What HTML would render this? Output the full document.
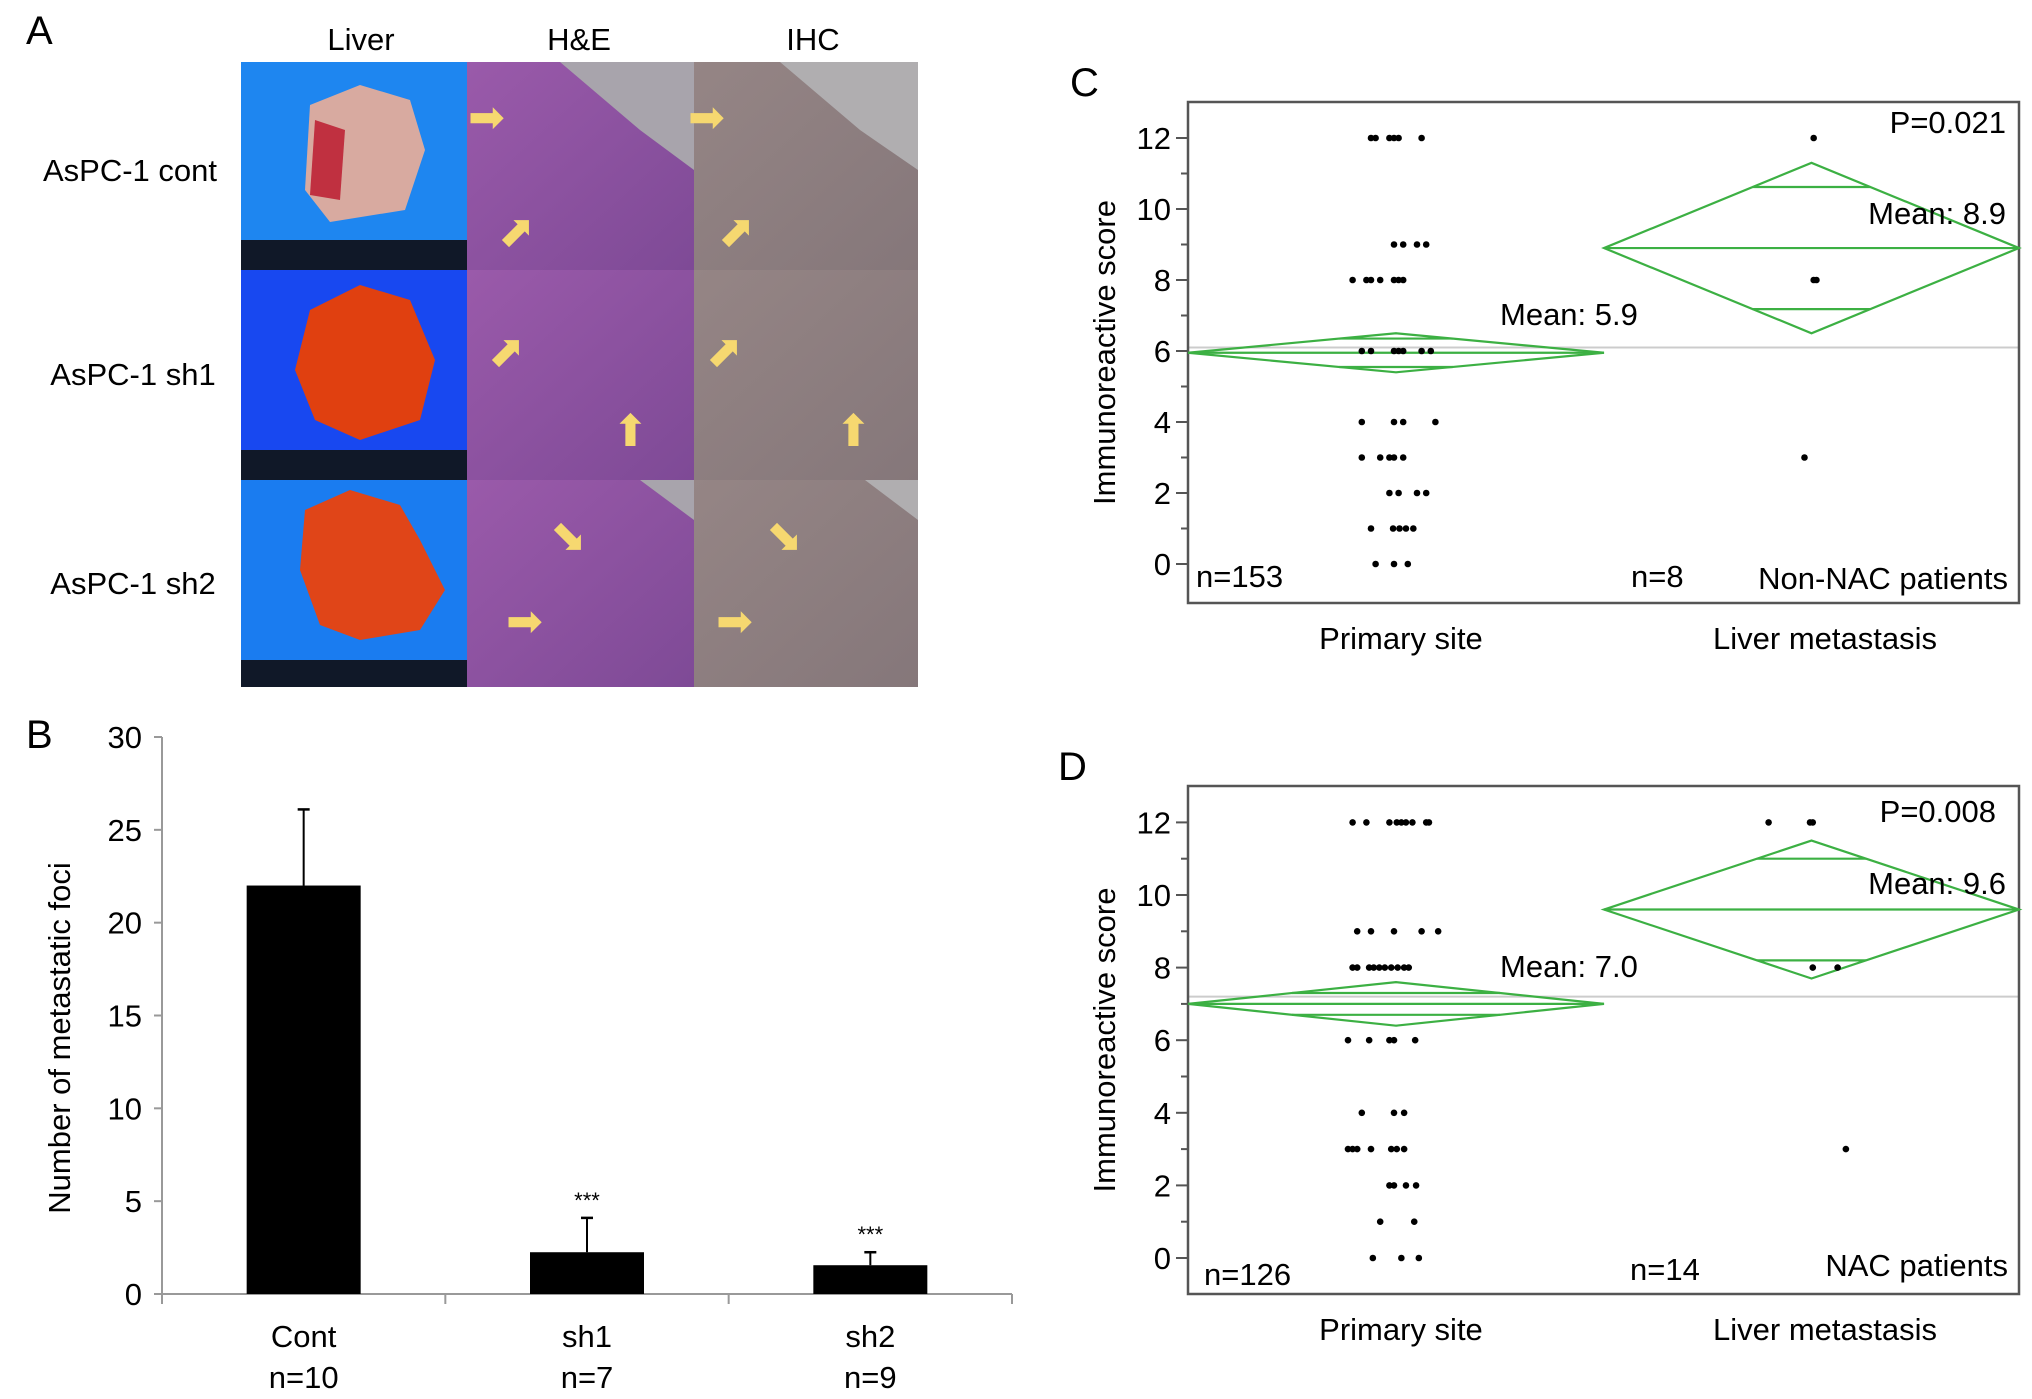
<!DOCTYPE html>
<html><head><meta charset="utf-8"><style>
html,body{margin:0;padding:0;background:#fff;}
svg{display:block;font-family:"Liberation Sans",sans-serif;}
</style></head><body>
<svg id="fig" width="2032" height="1399" viewBox="0 0 2032 1399" xmlns="http://www.w3.org/2000/svg">
<defs>
<linearGradient id="heg" x1="0" y1="0" x2="1" y2="1"><stop offset="0" stop-color="#9a5aaa"/><stop offset="1" stop-color="#7e4a96"/></linearGradient>
<linearGradient id="ihcg" x1="0" y1="0" x2="1" y2="1"><stop offset="0" stop-color="#958585"/><stop offset="1" stop-color="#85777a"/></linearGradient>
</defs>
<g>
<text x="26" y="44" font-size="40">A</text>
<text x="361" y="50" font-size="31" text-anchor="middle">Liver</text>
<text x="579" y="50" font-size="31" text-anchor="middle">H&amp;E</text>
<text x="813" y="50" font-size="31" text-anchor="middle">IHC</text>
<text x="130" y="181" font-size="31" text-anchor="middle">AsPC-1 cont</text>
<text x="133" y="385" font-size="31" text-anchor="middle">AsPC-1 sh1</text>
<text x="133" y="594" font-size="31" text-anchor="middle">AsPC-1 sh2</text>
<rect x="241" y="62" width="226" height="208" fill="#1e86f0"/>
<rect x="241" y="240" width="226" height="30" fill="#101828"/>
<path d="M310 105 L360 85 L410 100 L425 150 L405 210 L330 222 L305 190 Z" fill="#d8aaa0"/>
<path d="M315 120 L345 130 L340 200 L310 195 Z" fill="#c03040"/>
<rect x="241" y="270" width="226" height="210" fill="#1848f0"/>
<rect x="241" y="450" width="226" height="30" fill="#101828"/>
<path d="M310 310 L360 285 L410 300 L435 360 L420 420 L360 440 L315 420 L295 370 Z" fill="#e04010"/>
<rect x="241" y="480" width="226" height="207" fill="#1a7cf0"/>
<rect x="241" y="660" width="226" height="27" fill="#101828"/>
<path d="M305 510 L350 490 L400 505 L420 540 L445 590 L420 630 L360 640 L320 625 L300 570 Z" fill="#e04518"/>
<rect x="467" y="62" width="227" height="208" fill="url(#heg)"/>
<path d="M560 62 L694 62 L694 170 L640 130 Z" fill="#a8a4ac"/>
<rect x="467" y="270" width="227" height="210" fill="url(#heg)"/>
<rect x="467" y="480" width="227" height="207" fill="url(#heg)"/>
<path d="M640 480 L694 480 L694 520 Z" fill="#a8a4ac"/>
<rect x="694" y="62" width="224" height="208" fill="url(#ihcg)"/>
<path d="M780 62 L918 62 L918 170 L860 130 Z" fill="#b0aeb0"/>
<rect x="694" y="270" width="224" height="210" fill="url(#ihcg)"/>
<rect x="694" y="480" width="224" height="207" fill="url(#ihcg)"/>
<path d="M865 480 L918 480 L918 520 Z" fill="#b0aeb0"/>
<g fill="#f6d870" font-size="44">
<text x="468" y="132">➡</text><text x="498" y="246">⬈</text>
<text x="688" y="132">➡</text><text x="718" y="246">⬈</text>
<text x="488" y="366">⬈</text><text x="612" y="446">⬆</text>
<text x="706" y="366">⬈</text><text x="835" y="446">⬆</text>
<text x="550" y="551">⬊</text><text x="506" y="636">➡</text>
<text x="766" y="551">⬊</text><text x="716" y="636">➡</text>
</g>
</g>
<g id="panelB"></g>
<g id="panelC"></g>
<g id="panelD"></g>
</svg>
<script>
const bCategories = ["Cont","sh1","sh2"];
const bNLabels = ["n=10","n=7","n=9"];
const bValues = [22.0, 2.25, 1.55];
const bErrors = [4.1, 1.85, 0.7];
const bSig = ["","***","***"];
const bTicks = [0,5,10,15,20,25,30];

const cPrimaryScores = [12,12,12,12,12,12, 9,9,9,9, 8,8,8,8,8,8,8, 6,6,6,6,6,6,6, 4,4,4,4, 3,3,3,3,3, 2,2,2,2, 1,1,1,1,1, 0,0,0];
const cPrimaryJitter = [-5,-4,-1,0,1,6, 0,2,5,7, -9,-6,-5,-3,0,1,2, -7,-5,0,1,2,6,8, -7,0,2,9, -7,-3,-1,0,2, -1,1,5,7, -5,-0.2,1.2,2.6,4.2, -4,0,3];
const cLiverScores = [12,8,8,3];
const cLiverJitter = [0.8,0.8,1.4,-1.2];
const cMeans = [5.95, 8.9];
const cDiamondHalf = [0.55, 2.4];
const cOverlap = [0.4, 1.72];
const cGrandMean = 6.1;

const dPrimaryScores = [12,12,12,12,12,12,12,12,12, 9,9,9,9,9, 8,8,8,8,8,8,8,8,8,8, 6,6,6,6,6, 4,4,4, 3,3,3,3,3,3,3, 2,2,2,2, 1,1, 0,0,0];
const dPrimaryJitter = [-9,-6,-1,0.6,1.6,2.6,4,7,7.6, -8,-5,0,6,9.6, -9,-8,-5.4,-4.4,-3.2,-2,-0.6,0.8,2.2,3.2, -10,-5.4,-1,0,4.6, -7,0,2.2, -10,-9,-8,-5,-0.6,0.6,2.2, -1,0,2.6,4.8, -3,4.4, -4.6,1.6,5.4];
const dLiverScores = [12,12,12,8,8,3];
const dLiverJitter = [-9,0,0.6,0.6,6,7.8];
const dMeans = [7.0, 9.6];
const dDiamondHalf = [0.6, 1.9];
const dOverlap = [0.3, 1.4];
const dGrandMean = 7.2;

const scoreTicks = [0,2,4,6,8,10,12];
const NS = "http://www.w3.org/2000/svg";
function mk(parent, tag, attrs, txt){
  const e = document.createElementNS(NS, tag);
  for (const k in attrs) e.setAttribute(k, attrs[k]);
  if (txt !== undefined) e.textContent = txt;
  parent.appendChild(e);
  return e;
}

(function(){
  const g = document.getElementById('panelB');
  const x0 = 162, x1 = 1012, yBase = 1294, yTop = 737;
  const yS = v => yBase - v*(yBase-yTop)/30;
  const band = (x1-x0)/bCategories.length;
  const xC = i => x0 + band*(i+0.5);
  let t = mk(g,'text',{x:26,y:748,'font-size':40},'B');
   
  let ax = mk(g,'line',{x1:x0,y1:yTop,x2:x0,y2:yBase+10,stroke:'#999','stroke-width':2});
   
  let xa = mk(g,'line',{x1:x0,y1:yBase,x2:x1,y2:yBase,stroke:'#999','stroke-width':2});
   
  for (let i=1;i<=bCategories.length;i++){
    const d = mk(g,'line',{x1:x0+band*i,y1:yBase,x2:x0+band*i,y2:yBase+10,stroke:'#999','stroke-width':2});
     
  }
  bTicks.forEach(v=>{
    const tk = mk(g,'line',{x1:x0-8,y1:yS(v),x2:x0,y2:yS(v),stroke:'#999','stroke-width':2});
     
    const tl = mk(g,'text',{x:x0-20,y:yS(v)+11,'font-size':31,'text-anchor':'end'},String(v));
     
  });
  const yt = mk(g,'text',{x:0,y:0,'font-size':31,'text-anchor':'middle',transform:'translate(70,1038) rotate(-90)'},'Number of metastatic foci');
   
  const bw = 114;
  bCategories.forEach((c,i)=>{
    const cx = xC(i);
    const top = yS(bValues[i]+bErrors[i]);
    const el = mk(g,'line',{x1:cx,y1:yS(bValues[i]),x2:cx,y2:top,stroke:'#000','stroke-width':2});
     
    const cap = mk(g,'line',{x1:cx-6,y1:top,x2:cx+6,y2:top,stroke:'#000','stroke-width':2.5});
     
    const r = mk(g,'rect',{x:cx-bw/2,y:yS(bValues[i]),width:bw,height:yBase-yS(bValues[i]),fill:'#000'});
     
    const l1 = mk(g,'text',{x:cx,y:1347,'font-size':31,'text-anchor':'middle'},c);
     
    const l2 = mk(g,'text',{x:cx,y:1388,'font-size':31,'text-anchor':'middle'},bNLabels[i]);
     
    if (bSig[i]){
      const s = mk(g,'text',{x:cx,y:top-10,'font-size':22,'text-anchor':'middle'},bSig[i]);
       
    }
  });
})();

function scorePanel(id, o){
  const g = document.getElementById(id);
  const L=1188, R=2019, T=o.top, B=o.bottom;
  const yS = v => o.y0 - v*o.unit;
  const groupX = [1394, 1810];
  const jit = 4.6;
  const lab = mk(g,'text',{x:o.letterX,y:o.letterY,'font-size':40},o.letter);
   
  const gm = mk(g,'line',{x1:L,y1:yS(o.grand),x2:R,y2:yS(o.grand),stroke:'#ccc','stroke-width':2});
   
  const box = mk(g,'rect',{x:L,y:T,width:R-L,height:B-T,fill:'none',stroke:'#555','stroke-width':2.5});
   
  for (let v=0; v<=12; v++){
    const major = scoreTicks.includes(v);
    const tk = mk(g,'line',{x1:major?L-12:L-7,y1:yS(v),x2:L,y2:yS(v),stroke:'#555','stroke-width':2});
     
  }
  scoreTicks.forEach(v=>{
    const tl = mk(g,'text',{x:L-17,y:yS(v)+11,'font-size':31,'text-anchor':'end'},String(v));
     
  });
  const yt = mk(g,'text',{x:0,y:0,'font-size':31,'text-anchor':'middle',transform:'translate(1115,'+((T+B)/2)+') rotate(-90)'},'Immunoreactive score');
   
  const xl1 = mk(g,'text',{x:1401,y:B+46,'font-size':31,'text-anchor':'middle'},'Primary site');
   
  const xl2 = mk(g,'text',{x:1825,y:B+46,'font-size':31,'text-anchor':'middle'},'Liver metastasis');
   
  const spans = [[L, 1604],[1604, R]];
  o.means.forEach((m,i)=>{
    const [a,b] = spans[i]; const c=(a+b)/2, hw=(b-a)/2, h=o.half[i];
    const pts = [[a,yS(m)],[c,yS(m+h)],[b,yS(m)],[c,yS(m-h)]].map(p=>p.join(',')).join(' ');
    const d = mk(g,'polygon',{points:pts,fill:'none',stroke:'#3cb043','stroke-width':2.2});
     
    const ml = mk(g,'line',{x1:a,y1:yS(m),x2:b,y2:yS(m),stroke:'#3cb043','stroke-width':2.2});
     
    [1,-1].forEach(s=>{
      const ov=o.overlap[i], w=hw*(1-ov/h);
      const ol = mk(g,'line',{x1:c-w,y1:yS(m+s*ov),x2:c+w,y2:yS(m+s*ov),stroke:'#3cb043','stroke-width':2.2});
       
    });
  });
  [[o.pS,o.pJ,0],[o.lS,o.lJ,1]].forEach(([sc,jt,gi])=>{
    sc.forEach((v,k)=>{
      const p = mk(g,'circle',{cx:groupX[gi]+jt[k]*jit,cy:yS(v),r:3.3,fill:'#000'});
       
    });
  });
  o.texts.forEach(t=>{
    const e = mk(g,'text',{x:t[1],y:t[2],'font-size':31,'text-anchor':t[3]||'start'},t[0]);
     
  });
}
scorePanel('panelC',{letter:'C',letterX:1070,letterY:96,top:102,bottom:603,y0:564,unit:35.5,grand:cGrandMean,
  means:cMeans,half:cDiamondHalf,overlap:cOverlap,pS:cPrimaryScores,pJ:cPrimaryJitter,lS:cLiverScores,lJ:cLiverJitter,
  texts:[['P=0.021',2006,133,'end','p-value'],['Mean: 8.9',2006,224,'end','mean-label-liver'],['Mean: 5.9',1500,325,'start','mean-label-primary'],
  ['n=153',1196,587,'start','n-primary'],['n=8',1631,587,'start','n-liver'],['Non-NAC patients',2008,589,'end','group-label']]});
scorePanel('panelD',{letter:'D',letterX:1058,letterY:780,top:786,bottom:1294,y0:1258,unit:36.3,grand:dGrandMean,
  means:dMeans,half:dDiamondHalf,overlap:dOverlap,pS:dPrimaryScores,pJ:dPrimaryJitter,lS:dLiverScores,lJ:dLiverJitter,
  texts:[['P=0.008',1996,822,'end','p-value'],['Mean: 9.6',2006,894,'end','mean-label-liver'],['Mean: 7.0',1500,977,'start','mean-label-primary'],
  ['n=126',1204,1285,'start','n-primary'],['n=14',1630,1280,'start','n-liver'],['NAC patients',2008,1276,'end','group-label']]});
</script>
</body></html>
